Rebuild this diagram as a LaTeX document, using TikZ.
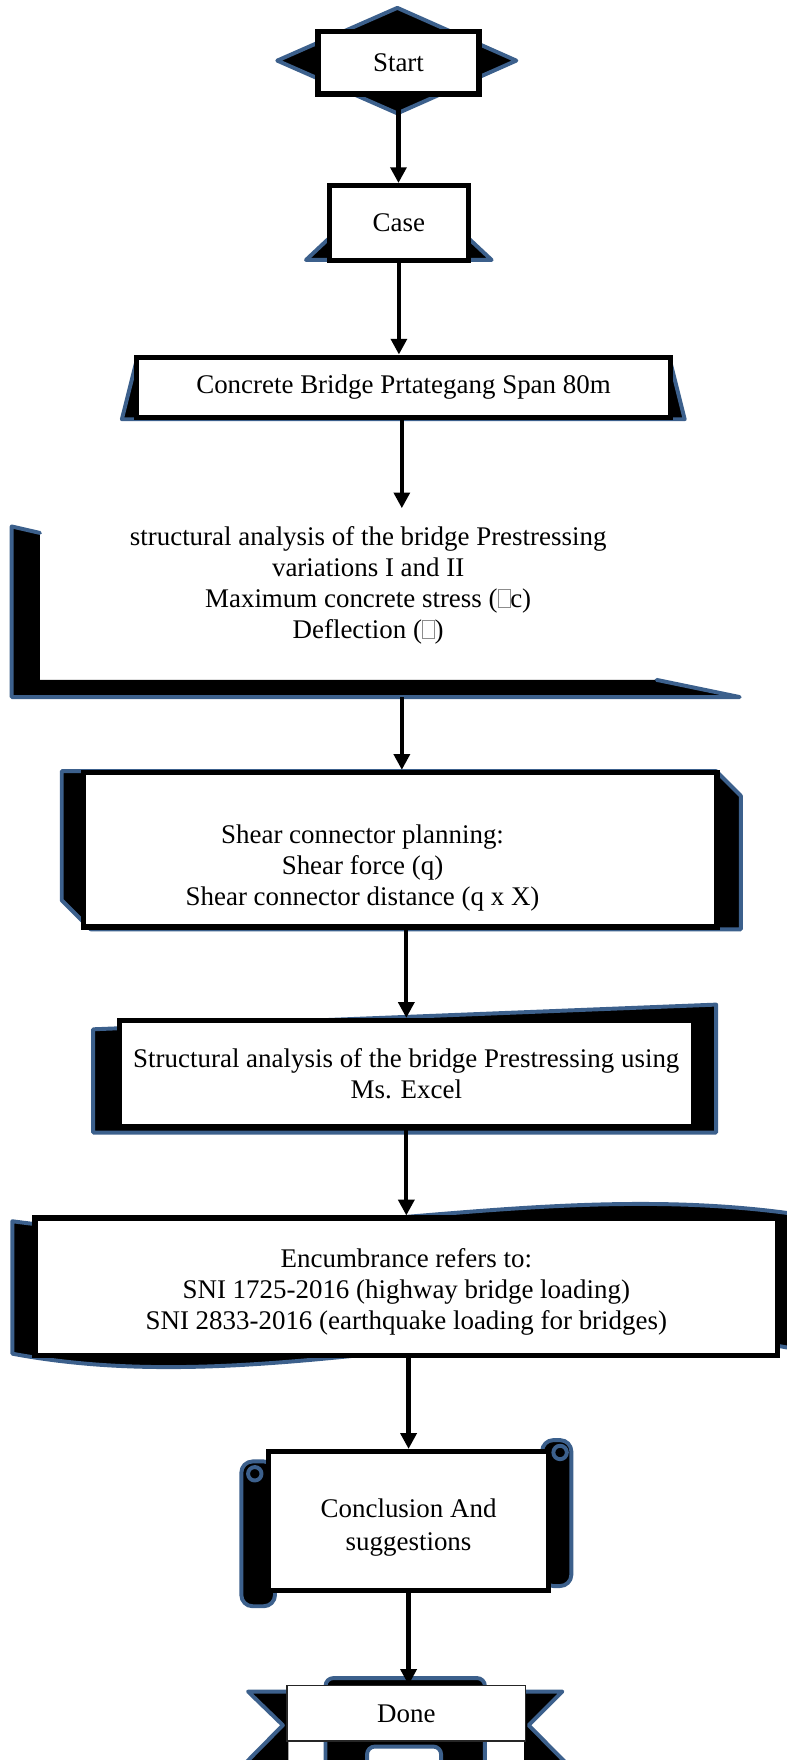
\documentclass[tikz,border=0pt]{standalone}
\usepackage{fontspec}
\setmainfont{Liberation Serif}
\usetikzlibrary{arrows.meta,calc}
\definecolor{edgeblue}{RGB}{60,96,140}
\newcommand{\tofubox}{{\color{black!45}\fboxsep0pt\fboxrule0.6pt\fbox{\rule{0pt}{0.66em}\hspace{0.42em}}}}
\begin{document}
\begin{tikzpicture}[x=1pt,y=-1pt,
  back/.style={fill=black,draw=edgeblue,line width=3.5pt,line join=round},
  edgeline/.style={draw=edgeblue,line width=3.5pt,line join=round,line cap=round},
  box/.style={draw=black,line width=4.8pt,fill=white,inner sep=0pt,rectangle},
  thinbox/.style={draw=black!85,line width=1.3pt,fill=white,inner sep=0pt,rectangle},
  txt/.style={font=\fontsize{24}{27.5}\selectfont,align=center,inner sep=0pt},
  arr/.style={draw=black,line width=3.8pt,-{Triangle[length=14pt,width=14pt]}}]
\useasboundingbox (0,0) rectangle (701,1568);
\clip (0,0) rectangle (701,1568);

% ---------- background shapes ----------
% Start diamond
\path[back] (354,7) -- (460,54) -- (354,101) -- (247,54) -- cycle;
% Case trapezoid
\path[back] (272.6,231.6) -- (317,190) -- (393.5,190) -- (438,231.6) -- cycle;
% Concrete trapezoid
\path[back] (108.6,373.5) -- (122,320) -- (596.6,320) -- (610,373.5) -- cycle;
% Analysis L-shadow
\fill[black] (10.4,469) -- (35.6,474.8) -- (35.6,605.7) -- (585,605.7) -- (659,621) -- (10.4,621) -- cycle;
\draw[edgeline] (35.6,474.8) -- (10.4,469) -- (10.4,621) -- (659,621) -- (585,605.7);
% Shear snip-corner shape
\path[back] (55,687) -- (638,687) -- (660,709) -- (660,828) -- (81,828) -- (55,802) -- cycle;
% Excel manual-input shape
\path[back] (83,917) -- (638,895) -- (638,1009) -- (83,1009) -- cycle;
% Encumbrance wave
\path[back] (11,1088) .. controls (242,1119.7) and (473,1049.3) .. (704,1081)
  -- (704,1201) .. controls (473,1157.7) and (242,1249.3) .. (11,1206) -- cycle;
% Conclusion scroll rolls
\path[back,rounded corners=10pt] (215,1302) rectangle (245,1431);
\path[back] (227,1313) circle[radius=6];
\path[back,rounded corners=10pt] (483,1283) rectangle (509,1413);
\path[back] (499,1294) circle[radius=6];
% Done ribbon
\fill[black] (221,1507) -- (252,1537) -- (214.5,1575) -- (257,1575) -- (257,1507) -- cycle;
\draw[edgeline] (257,1507) -- (221,1507) -- (252,1537) -- (214.5,1575);
\fill[black] (501,1507) -- (471,1537) -- (508.5,1575) -- (467,1575) -- (467,1507) -- cycle;
\draw[edgeline] (467,1507) -- (501,1507) -- (471,1537) -- (508.5,1575);
\path[back,rounded corners=7pt] (290,1580) -- (290,1495) -- (432,1495) -- (432,1580)
  -- (393,1580) -- (393,1556) -- (327,1556) -- (327,1580) -- cycle;

% ---------- boxes ----------
\node[box,txt,minimum width=143.5,minimum height=55.5] (start) at (355,56) {Start};
\node[box,txt,minimum width=123.5,minimum height=66.5] (case) at (355.4,198.7) {Case};
\node[box,txt,minimum width=475.5,minimum height=53.5] (concrete) at (359.5,345) {Concrete Bridge Prtategang Span 80m};
\node[inner sep=0pt,minimum width=600,minimum height=168] (analysis) at (358,537) {};
\node[txt] (analysistext) at (328,521.5) {structural analysis of the bridge Prestressing\\variations I and II\\Maximum concrete stress (\tofubox c)\\Deflection (\tofubox)};
\node[box,minimum width=564.5,minimum height=137.5] (shear) at (356.5,757) {};
\node[txt] (sheartext) at (323,773) {Shear connector planning:\\Shear force (q)\\Shear connector distance (q x X)};
\node[box,txt,minimum width=511.5,minimum height=94.5] (excel) at (362,956.5) {Structural analysis of the bridge Prestressing using\\Ms. Excel};
\node[box,minimum width=661.5,minimum height=122.5] (enc) at (362,1146.5) {};
\node[txt] (enctext) at (362,1151) {Encumbrance refers to:\\SNI 1725-2016 (highway bridge loading)\\SNI 2833-2016 (earthquake loading for bridges)};
\node[box,minimum width=249.5,minimum height=123.5] (conclusion) at (364,1355) {};
\node[txt,font=\fontsize{24}{29.5}\selectfont] (conclusiontext) at (364,1361) {Conclusion And\\suggestions};
\node[thinbox,txt,minimum width=212.5,minimum height=49.5] (done) at (362,1526.5) {Done};

% ---------- connectors ----------
\draw[arr] (start.south) -- (start.south |- case.north);
\draw[arr] (case.south) -- (case.south |- concrete.north);
\draw[arr] (analysis.north |- concrete.south) -- (analysis.north);
\draw[arr] (analysis.south) -- (analysis.south |- shear.north);
\draw[arr] (excel.north |- shear.south) -- (excel.north);
\draw[arr] (excel.south) -- (excel.south |- enc.north);
\draw[arr] (conclusion.north |- enc.south) -- (conclusion.north);
\draw[arr] (conclusion.south) -- (conclusion.south |- done.north);
\end{tikzpicture}
\end{document}
